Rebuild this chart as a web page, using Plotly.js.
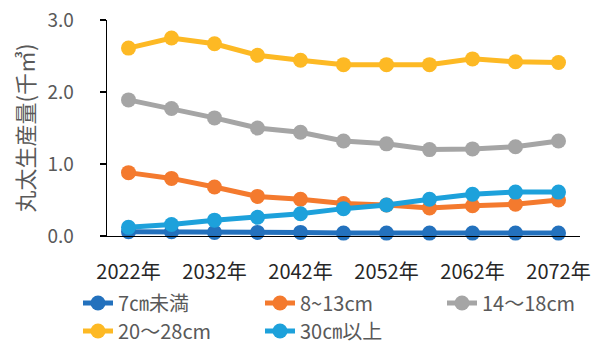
<!DOCTYPE html>
<html>
<head>
<meta charset="utf-8">
<script src="https://cdn.plot.ly/plotly-3.0.1.min.js"></script>
<style>html,body{margin:0;padding:0;background:#fff;}#chart{width:596px;height:345px;}</style>
</head>
<body>
<div id="chart"></div>
<script>
const years = [2022, 2027, 2032, 2037, 2042, 2047, 2052, 2057, 2062, 2067, 2072];
const tickYears = [2022, 2032, 2042, 2052, 2062, 2072];
const tickLabels = ["2022年", "2032年", "2042年", "2052年", "2062年", "2072年"];
const seriesNames = ["7㎝未満", "8~13cm", "14～18cm", "20～28cm", "30㎝以上"];
const under7 = [0.06, 0.06, 0.05, 0.05, 0.05, 0.04, 0.04, 0.04, 0.04, 0.04, 0.04];
const s8to13 = [0.88, 0.80, 0.68, 0.55, 0.51, 0.45, 0.43, 0.39, 0.42, 0.44, 0.50];
const s14to18 = [1.89, 1.77, 1.64, 1.50, 1.44, 1.32, 1.28, 1.20, 1.21, 1.24, 1.32];
const s20to28 = [2.61, 2.75, 2.67, 2.51, 2.44, 2.38, 2.38, 2.38, 2.46, 2.42, 2.41];
const over30 = [0.12, 0.16, 0.22, 0.26, 0.31, 0.38, 0.43, 0.51, 0.58, 0.61, 0.61];
const colors = ["#2371BD", "#F47A2E", "#A5A5A5", "#FDB924", "#1DA1DB"];
const values = [under7, s8to13, s14to18, s20to28, over30];
const legendIds = ["legend", "legend2", "legend3", "legend4", "legend5"];
// legend placement in pixels: [left, row centre]
const legendPos = [[78, 303], [260, 303], [442, 303], [78, 331], [260, 331]];

const traces = values.map((v, i) => ({
  x: years, y: v, name: seriesNames[i], type: "scatter", mode: "lines+markers",
  line: {color: colors[i], width: 5},
  marker: {color: colors[i], size: 15},
  cliponaxis: false, legend: legendIds[i]
}));

const font = '"Noto Sans CJK JP", "Noto Sans", sans-serif';
const legendFont = {size: 20, color: "#595959", family: font};
const layout = {
  width: 596, height: 345,
  margin: {l: 107, r: 16, t: 20, b: 109},
  paper_bgcolor: "#fff", plot_bgcolor: "#fff",
  font: {family: font, color: "#595959"},
  showlegend: true,
  xaxis: {
    range: [2019.5, 2074.5], tickvals: tickYears, ticktext: tickLabels,
    showgrid: false, zeroline: false, showline: true, linecolor: "#000", linewidth: 1.3,
    ticks: "", ticklabelstandoff: 18, automargin: false,
    tickfont: {size: 20, color: "#262626", family: font}
  },
  yaxis: {
    range: [0, 3], tickvals: [0, 1, 2, 3], tickformat: ".1f",
    showgrid: false, zeroline: false, showline: true, linecolor: "#000", linewidth: 1.3,
    ticks: "outside", ticklen: 6, tickcolor: "#000", tickwidth: 1.3,
    ticklabelstandoff: 22, automargin: false,
    tickfont: {size: 19, color: "#595959", family: font},
    title: {text: "丸太生産量(千㎥)", font: {size: 22, color: "#595959", family: font}, standoff: 6}
  }
};
legendIds.forEach((id, i) => {
  layout[id] = {
    orientation: "h", xref: "container", yref: "container",
    x: legendPos[i][0] / 596, xanchor: "left",
    y: 1 - legendPos[i][1] / 345, yanchor: "middle",
    font: legendFont, itemwidth: 30, bgcolor: "rgba(0,0,0,0)", borderwidth: 0
  };
});
Plotly.newPlot("chart", traces, layout, {displayModeBar: false, staticPlot: true});
</script>
</body>
</html>
